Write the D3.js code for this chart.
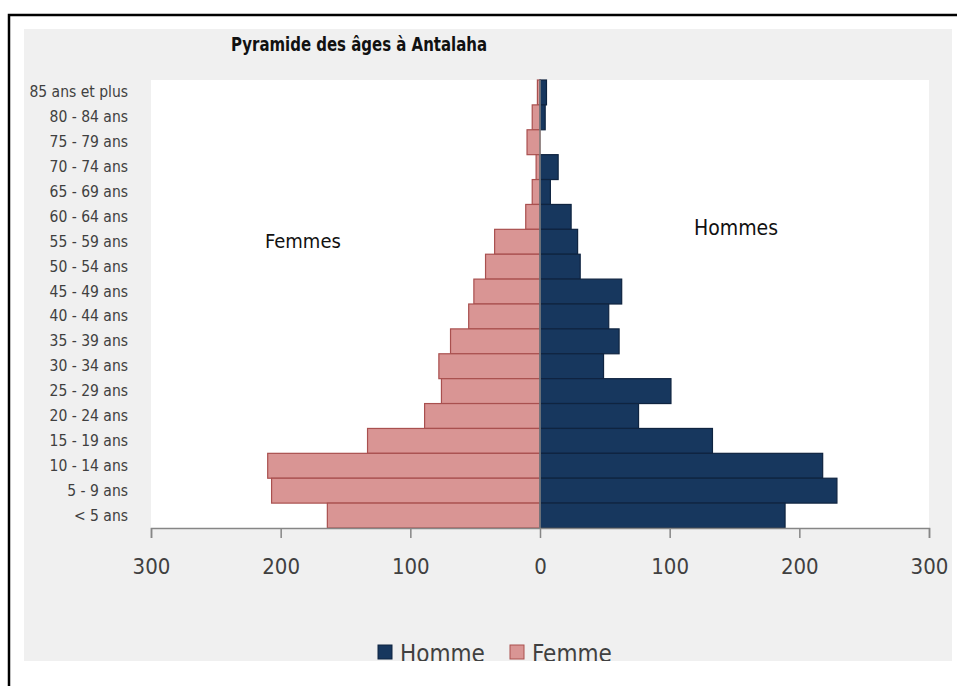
<!DOCTYPE html>
<html>
<head>
<meta charset="utf-8">
<script src="https://cdn.jsdelivr.net/npm/d3@7"></script>
<style>
  body { margin: 0; background: #fff; }
  svg text { font-family: "DejaVu Sans Condensed", "Liberation Sans", sans-serif; }
</style>
</head>
<body>
<div id="chart"></div>
<script>
// age groups, top to bottom
const ageGroups = ["85 ans et plus", "80 - 84 ans", "75 - 79 ans", "70 - 74 ans", "65 - 69 ans",
  "60 - 64 ans", "55 - 59 ans", "50 - 54 ans", "45 - 49 ans", "40 - 44 ans", "35 - 39 ans",
  "30 - 34 ans", "25 - 29 ans", "20 - 24 ans", "15 - 19 ans", "10 - 14 ans", "5 - 9 ans", "< 5 ans"];
const hommes = [5, 4, 0, 14, 8, 24, 29, 31, 63, 53, 61, 49, 101, 76, 133, 218, 229, 189];
const femmes = [2, 6, 10, 3, 6, 11, 35, 42, 51, 55, 69, 78, 76, 89, 133, 210, 207, 164];
const xTicks = [-300, -200, -100, 0, 100, 200, 300];

const W = 957, H = 686;
const MARGIN = { LEFT: 151, RIGHT: 28, TOP: 80, BOTTOM: 158 };
const WIDTH = W - MARGIN.LEFT - MARGIN.RIGHT;
const HEIGHT = H - MARGIN.TOP - MARGIN.BOTTOM;

const svg = d3.select("#chart").append("svg")
  .attr("width", W).attr("height", H);

// outer frame (only top and left edges visible)
svg.append("rect")
  .attr("x", 9).attr("y", 15).attr("width", 980).attr("height", 700)
  .attr("fill", "none").attr("stroke", "#000").attr("stroke-width", 2.5);

// grey chart area, clips the legend at its bottom
svg.append("clipPath").attr("id", "panel-clip")
  .append("rect").attr("x", 24).attr("y", 29).attr("width", 928).attr("height", 632);
const panel = svg.append("g").attr("clip-path", "url(#panel-clip)");
panel.append("rect")
  .attr("x", 24).attr("y", 29).attr("width", 928).attr("height", 632)
  .attr("fill", "#f0f0f0");

panel.append("text")
  .attr("x", 231).attr("y", 51)
  .attr("font-size", 19).attr("font-weight", "bold").attr("fill", "#111")
  .attr("textLength", 256).attr("lengthAdjust", "spacingAndGlyphs")
  .text("Pyramide des âges à Antalaha");

const g = panel.append("g").attr("transform", `translate(${MARGIN.LEFT}, ${MARGIN.TOP})`);

g.append("rect").attr("width", WIDTH).attr("height", HEIGHT).attr("fill", "#fff");

const x = d3.scaleLinear().domain([-300, 300]).range([0, WIDTH]);
const y = d3.scaleBand().domain(ageGroups).range([0, HEIGHT]).padding(0);

// bars
g.selectAll("rect.femme").data(ageGroups)
  .enter().append("rect")
  .attr("class", "femme")
  .attr("x", (d, i) => x(-femmes[i]))
  .attr("y", (d) => y(d))
  .attr("width", (d, i) => x(0) - x(-femmes[i]))
  .attr("height", y.bandwidth())
  .attr("fill", "#d99594").attr("stroke", "#a9504f").attr("stroke-width", 1.2);

g.selectAll("rect.homme").data(ageGroups)
  .enter().append("rect")
  .attr("class", "homme")
  .attr("x", x(0))
  .attr("y", (d) => y(d))
  .attr("width", (d, i) => x(hommes[i]) - x(0))
  .attr("height", y.bandwidth())
  .attr("fill", "#17375e").attr("stroke", "#0f2440").attr("stroke-width", 1.2)
  .attr("display", (d, i) => hommes[i] > 0 ? null : "none");

// centre line
g.append("line")
  .attr("x1", x(0)).attr("x2", x(0)).attr("y1", 0).attr("y2", HEIGHT)
  .attr("stroke", "#868686").attr("stroke-width", 1.5);

// x axis
const xAxisCall = d3.axisBottom(x).tickValues(xTicks)
  .tickFormat((d) => Math.abs(d)).tickSize(10).tickPadding(20);
const xAxis = g.append("g")
  .attr("transform", `translate(0, ${HEIGHT})`)
  .call(xAxisCall);
xAxis.select(".domain").attr("stroke", "#868686").attr("stroke-width", 1.5);
xAxis.selectAll(".tick line").attr("stroke", "#868686").attr("stroke-width", 1.5);
xAxis.selectAll(".tick text")
  .attr("font-size", 22).attr("fill", "#404040")
  .attr("font-family", "\"DejaVu Sans Condensed\", sans-serif");

// y labels
const yAxisCall = d3.axisLeft(y).tickSize(0).tickPadding(23);
const yAxis = g.append("g").call(yAxisCall);
yAxis.select(".domain").remove();
yAxis.selectAll(".tick text")
  .attr("font-size", 15.5).attr("fill", "#404040")
  .attr("font-family", "\"DejaVu Sans Condensed\", sans-serif");

// side labels
panel.append("text").attr("x", 265).attr("y", 248)
  .attr("font-size", 20).attr("fill", "#111").text("Femmes");
panel.append("text").attr("x", 694).attr("y", 235)
  .attr("font-size", 21).attr("fill", "#111").text("Hommes");

// legend
const legend = panel.append("g").attr("transform", "translate(378, 645)");
const legendItems = [
  { name: "Homme", fill: "#17375e", stroke: "#0f2440", dx: 0 },
  { name: "Femme", fill: "#d99594", stroke: "#a9504f", dx: 132 }
];
legendItems.forEach((it) => {
  legend.append("rect").attr("x", it.dx).attr("y", 0).attr("width", 14).attr("height", 14)
    .attr("fill", it.fill).attr("stroke", it.stroke);
  legend.append("text").attr("x", it.dx + 22).attr("y", 17)
    .attr("font-size", 24).attr("fill", "#404040").text(it.name);
});
</script>
</body>
</html>
